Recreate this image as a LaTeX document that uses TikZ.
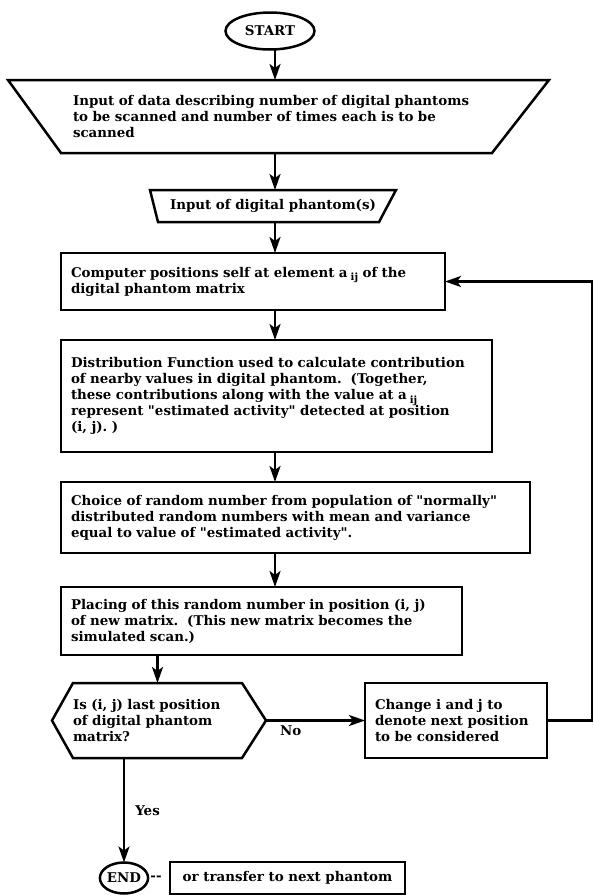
\documentclass[tikz,border=0pt]{standalone}
\usepackage{fontspec}
\setmainfont{DejaVu Serif}
\usetikzlibrary{arrows.meta,shapes.geometric}
\newcommand{\sub}{\kern3pt\raisebox{-3.5pt}{\fontsize{10}{10}\selectfont ij}}
\newcommand{\q}{\textquotedbl}

\begin{document}
\begin{tikzpicture}[x=1pt,y=-1pt,line width=2.5pt,
  font=\bfseries\fontsize{13.4}{16}\selectfont,
  every node/.style={outer sep=0pt},
  box/.style={draw,rectangle,align=left,inner xsep=10pt,inner ysep=0pt},
  arr/.style={-{Stealth[length=16pt,width=11pt,inset=4pt]}}]
\useasboundingbox (0,0) rectangle (594,895);
\coordinate (spine) at (275,0);
\coordinate (back) at (592,0);

\node[draw,ellipse,minimum width=89pt,minimum height=37pt,inner sep=0pt] (start) at (270,31) {START};

\node[minimum width=541pt,minimum height=73pt,text width=411pt,align=left,inner xsep=65pt,inner ysep=0pt] (inp) at (278.5,116.5)
 {Input of data describing number of digital phantoms\\to be scanned and number of times each is to be\\scanned};
\draw (inp.north west) -- (inp.north east) -- ([xshift=-57pt]inp.south east) -- ([xshift=53pt]inp.south west) -- cycle;

\node[minimum width=246pt,minimum height=32pt,inner sep=0pt] (phin) at (273,206) {Input of digital phantom(s)};
\draw (phin.north west) -- (phin.north east) -- ([xshift=-17pt]phin.south east) -- ([xshift=8pt]phin.south west) -- cycle;

\node[box,text width=364pt,minimum height=57pt] (pos) at (253,281.5)
 {Computer positions self at element a\sub{} of the\\digital phantom matrix};
\node[box,text width=411pt,minimum height=112pt] (est) at (276.5,396)
 {Distribution Function used to calculate contribution\\of nearby values in digital phantom.\ \ (Together,\\these contributions along with the value at a\sub\\represent \q estimated activity\q{} detected at position\\(i, j).\ )};
\node[box,text width=449pt,minimum height=71pt] (rnd) at (295.5,517.5)
 {Choice of random number from population of \q normally\q\\distributed random numbers with mean and variance\\equal to value of \q estimated activity\q.};
\node[box,text width=381pt,minimum height=68pt] (put) at (261.5,621)
 {Placing of this random number in position (i, j)\\of new matrix.\ \ (This new matrix becomes the\\simulated scan.)};

\node[minimum width=169pt,minimum height=75pt,text width=169pt,align=left,inner xsep=0pt,inner ysep=0pt] (dec) at (157.5,720.5)
 {Is (i, j) last position\\of digital phantom\\matrix?};
\draw (dec.north west) -- (dec.north east) -- ([xshift=24pt]dec.east) -- (dec.south east) -- (dec.south west) -- ([xshift=-21pt]dec.west) -- cycle;
\coordinate (tip) at ([xshift=24pt]dec.east);

\node[box,text width=162pt,minimum height=75pt] (chg) at (456,720.5)
 {Change i and j to\\denote next position\\to be considered};

\node[draw,ellipse,minimum width=42pt,minimum height=31pt,inner sep=0pt] (fin) at (124,878) {END};
\node (dash) at (156,878) {-{}-};
\node[draw,minimum width=235pt,minimum height=32pt,inner sep=0pt] (oth) at (287.5,878) {or transfer to next phantom};

\draw[arr] (start.south -| spine) -- (inp.north -| spine);
\draw[arr] (inp.south -| spine) -- (phin.north -| spine);
\draw[arr] (phin.south -| spine) -- (pos.north -| spine);
\draw[arr] (pos.south -| spine) -- (est.north -| spine);
\draw[arr] (est.south -| spine) -- (rnd.north -| spine);
\draw[arr] (rnd.south -| spine) -- (put.north -| spine);
\draw[arr] (dec.north |- put.south) -- (dec.north);
\draw[arr] (tip) -- (tip -| chg.west) node[pos=0.25,below=2pt] {No};
\draw[arr] (dec.south -| fin.north) -- (fin.north) node[midway,right=8pt] {Yes};
\draw[arr] (chg.east) -- (chg.east -| back) -- (back |- pos.east) -- (pos.east);
\end{tikzpicture}
\end{document}
